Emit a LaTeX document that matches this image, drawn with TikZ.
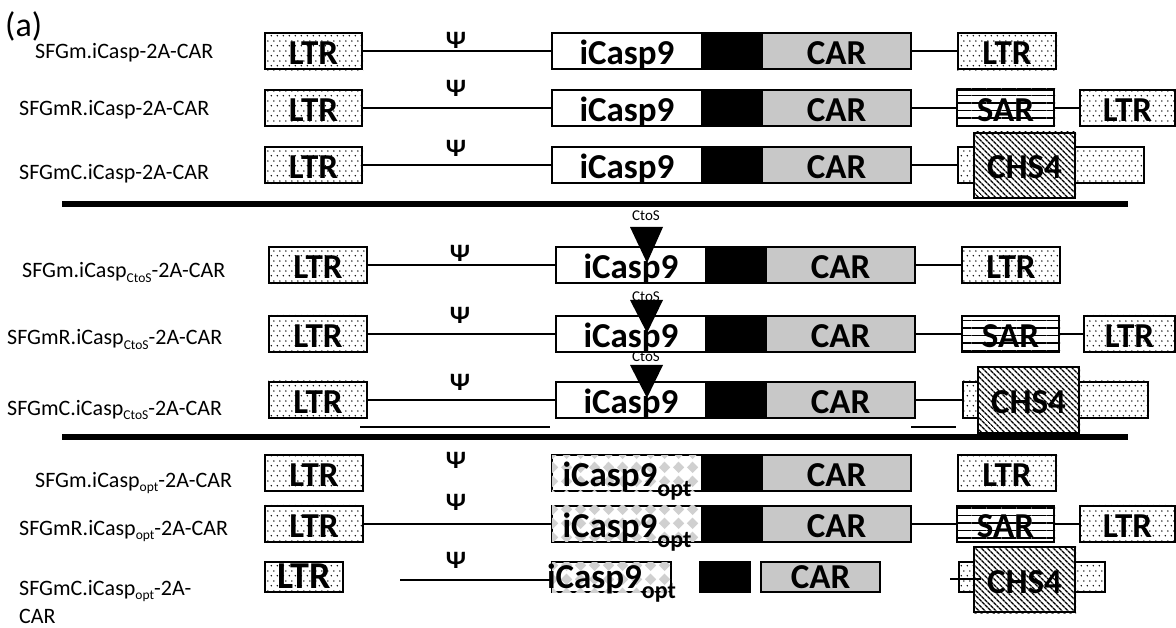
\documentclass[tikz,border=0pt]{standalone}
\usepackage{fontspec}
\setmainfont{Carlito}
\usetikzlibrary{patterns,patterns.meta}

\definecolor{cargray}{RGB}{200,200,200}
\definecolor{optgray}{RGB}{208,208,208}

% staggered dots for the LTR elements
\tikzdeclarepattern{
  name=ltrdots,
  type=uncolored,
  bottom left={(0pt,0pt)},
  top right={(6pt,10pt)},
  tile size={(6pt,10pt)},
  code={
    \pgfpathcircle{\pgfpoint{1.5pt}{2.5pt}}{0.9pt}
    \pgfpathcircle{\pgfpoint{4.5pt}{7.5pt}}{0.9pt}
    \pgfusepath{fill}
  }
}

% grey diamonds for the codon-optimised iCasp9
\tikzdeclarepattern{
  name=optdiamonds,
  type=colored,
  bottom left={(0pt,0pt)},
  top right={(14pt,14pt)},
  tile size={(14pt,14pt)},
  code={
    \fill[optgray] (7pt,1pt) -- (13pt,7pt) -- (7pt,13pt) -- (1pt,7pt) -- cycle;
  }
}

\newcommand\boxfont{\fontsize{35}{40}\selectfont\bfseries}
\newcommand\lblfont{\fontsize{22}{26}\selectfont}
\newcommand\psifont{\fontsize{25}{28}\selectfont\bfseries}
\newcommand\lsub[1]{\raisebox{-4.5pt}{\fontsize{13.5}{14}\selectfont #1}}
\newcommand\optsub{\raisebox{-10pt}{\fontsize{24}{24}\selectfont opt}}

% element from x1 to x2 centred on row y
\newcommand\cassette[6]{\node[#5, minimum width={(#3-#2)*1pt}] (#1) at ({(#2+#3)/2},#4) {#6};}

\tikzset{
  box/.style={draw, line width=2pt, inner sep=0pt, minimum height=36pt,
              text height=27pt, text depth=0pt, font=\boxfont},
  ltr/.style={box, fill=white},
  ic/.style={box, fill=white},
  icopt/.style={box, fill=white, postaction={pattern=optdiamonds}},
  tag/.style={box, fill=black},
  car/.style={box, fill=cargray},
  sar/.style={box, fill=white},
  chs/.style={box, fill=white, minimum height=65pt},
  short/.style={minimum height=30pt, text height=22pt},
  dotskin/.style={pattern=ltrdots},
  sarskin/.style={pattern={Lines[angle=0,distance=7.5pt,line width=1.4pt]}},
  chsskin/.style={pattern={Lines[angle=-45,distance=4pt,line width=1.5pt]}},
  link/.style={line width=2pt},
  thin/.style={line width=1.5pt},
  sep/.style={line width=6pt},
  psi/.style={font=\psifont, inner sep=0pt},
  lbl/.style={anchor=base west, inner sep=0pt, font=\lblfont},
  ctos/.style={font=\fontsize{15}{16}\selectfont, inner sep=0pt},
}

\begin{document}
\begin{tikzpicture}[x=1pt,y=-1pt]
\useasboundingbox[fill=white] (0,0) rectangle (1176,628);

\node[anchor=base west, inner sep=0pt, font=\fontsize{34}{36}\selectfont] (panel) at (5,37) {(a)};

% ---------- SFGm / SFGmR / SFGmC ----------
\node[lbl] (t1) at (35,59) {SFGm.iCasp-2A-CAR};
\cassette{la1}{265}{362}{51.5}{ltr}{LTR}
\cassette{ic1}{552}{702}{51.5}{ic}{iCasp9}
\cassette{bk1}{702}{762}{51.5}{tag}{}
\cassette{cr1}{762}{911}{51.5}{car}{CAR}
\cassette{lb1}{958}{1056}{51.5}{ltr}{LTR}
\node[psi] (p1) at (456,40) {Ψ};
\draw[link] (la1) -- (ic1);
\draw[link] (cr1) -- (lb1);

\node[lbl] (t2) at (19,116) {SFGmR.iCasp-2A-CAR};
\cassette{la2}{265}{362}{108}{ltr}{LTR}
\cassette{ic2}{552}{702}{108}{ic}{iCasp9}
\cassette{bk2}{702}{762}{108}{tag}{}
\cassette{cr2}{762}{911}{108}{car}{CAR}
\cassette{sa2}{957}{1054}{108}{sar}{SAR}
\cassette{lb2}{1080}{1175}{108}{ltr}{LTR}
\node[psi] (p2) at (456,88) {Ψ};
\draw[link] (la2) -- (ic2);
\draw[link] (cr2) -- (sa2);
\draw[link] (sa2) -- (lb2);

\node[lbl] (t3) at (19,180) {SFGmC.iCasp-2A-CAR};
\cassette{la3}{265}{362}{165.5}{ltr}{LTR}
\cassette{ic3}{552}{702}{165.5}{ic}{iCasp9}
\cassette{bk3}{702}{762}{165.5}{tag}{}
\cassette{cr3}{762}{911}{165.5}{car}{CAR}
\cassette{db3}{958}{1144}{165.5}{ltr}{}
\node[psi] (p3) at (456,148) {Ψ};
\draw[link] (la3) -- (ic3);
\draw[link] (cr3) -- (db3);
\fill[dotskin] (db3.south west) rectangle (db3.north east);
\cassette{ch3}{974}{1075}{165.5}{chs}{CHS4}
\fill[chsskin] (ch3.south west) rectangle (ch3.north east);

\coordinate (s1a) at (62,204);
\coordinate (s1b) at (1128,204);
\draw[sep] (s1a) -- (s1b);

% ---------- CtoS variants ----------
\node[lbl] (t4) at (22,278) {SFGm.iCasp\lsub{CtoS}-2A-CAR};
\cassette{la4}{269}{367}{265.5}{ltr}{LTR}
\cassette{ic4}{556}{706}{265.5}{ic}{iCasp9}
\cassette{bk4}{706}{766}{265.5}{tag}{}
\cassette{cr4}{766}{915}{265.5}{car}{CAR}
\cassette{lb4}{962}{1060}{265.5}{ltr}{LTR}
\node[psi] (p4) at (460,253) {Ψ};
\draw[link] (la4) -- (ic4);
\draw[link] (cr4) -- (lb4);

\node[lbl] (t5) at (7,345) {SFGmR.iCasp\lsub{CtoS}-2A-CAR};
\cassette{la5}{269}{367}{334}{ltr}{LTR}
\cassette{ic5}{556}{706}{334}{ic}{iCasp9}
\cassette{bk5}{706}{766}{334}{tag}{}
\cassette{cr5}{766}{915}{334}{car}{CAR}
\cassette{sa5}{962}{1059}{334}{sar}{SAR}
\cassette{lb5}{1084}{1175}{334}{ltr}{LTR}
\node[psi] (p5) at (460,315) {Ψ};
\draw[link] (la5) -- (ic5);
\draw[link] (cr5) -- (sa5);
\draw[link] (sa5) -- (lb5);

\node[lbl] (t6) at (7,415) {SFGmC.iCasp\lsub{CtoS}-2A-CAR};
\cassette{la6}{269}{367}{400}{ltr}{LTR}
\cassette{ic6}{556}{706}{400}{ic}{iCasp9}
\cassette{bk6}{706}{766}{400}{tag}{}
\cassette{cr6}{766}{915}{400}{car}{CAR}
\cassette{db6}{963}{1148}{400}{ltr}{}
\node[psi] (p6) at (460,382) {Ψ};
\draw[link] (la6) -- (ic6);
\draw[link] (cr6) -- (db6);
\fill[dotskin] (db6.south west) rectangle (db6.north east);
\cassette{ch6}{978}{1079}{400}{chs}{CHS4}
\fill[chsskin] (ch6.south west) rectangle (ch6.north east);

\coordinate (u6a) at (360,427);
\coordinate (u6b) at (550,427);
\coordinate (u6c) at (911,427);
\coordinate (u6d) at (956,427);
\draw[thin] (u6a) -- (u6b);
\draw[thin] (u6c) -- (u6d);

% CtoS mutation markers
\foreach \r/\top/\tip/\bot/\lab in {4/227/263/283/216, 5/300/333/352/297, 6/365/398/418/357}{
  \node[ctos] (m\r) at (646,\lab) {CtoS};
  \coordinate (ma\r) at (630,\top);
  \coordinate (mb\r) at (663,\top);
  \coordinate (mt\r) at (647,\tip);
  \coordinate (mz\r) at (647,\bot);
  \fill (ma\r) -- (mb\r) -- (mt\r) -- cycle;
  \draw[thin] (mt\r) -- (mz\r);
}

\coordinate (s2a) at (62,437);
\coordinate (s2b) at (1128,437);
\draw[sep] (s2a) -- (s2b);

% ---------- codon-optimised variants ----------
\node[lbl] (t7) at (35,487) {SFGm.iCasp\lsub{opt}-2A-CAR};
\cassette{la7}{265}{363}{473}{ltr}{LTR}
\cassette{ic7}{552}{702}{473}{icopt}{iCasp9\optsub}
\cassette{bk7}{702}{762}{473}{tag}{}
\cassette{cr7}{762}{911}{473}{car}{CAR}
\cassette{lb7}{958}{1056}{473}{ltr}{LTR}
\node[psi] (p7) at (456,460) {Ψ};

\node[lbl] (t8) at (19,535) {SFGmR.iCasp\lsub{opt}-2A-CAR};
\cassette{la8}{265}{363}{523.5}{ltr}{LTR}
\cassette{ic8}{552}{702}{523.5}{icopt}{iCasp9\optsub}
\cassette{bk8}{702}{762}{523.5}{tag}{}
\cassette{cr8}{762}{911}{523.5}{car}{CAR}
\cassette{sa8}{957}{1054}{523.5}{sar}{SAR}
\cassette{lb8}{1080}{1175}{523.5}{ltr}{LTR}
\node[psi] (p8) at (456,502) {Ψ};
\draw[link] (la8) -- (ic8);
\draw[link] (cr8) -- (sa8);
\draw[link] (sa8) -- (lb8);

\node[lbl] (t9) at (19,595) {SFGmC.iCasp\lsub{opt}-2A-};
\node[lbl] (t9b) at (19,623) {CAR};
\cassette{la9}{265}{343}{577}{ltr,short,font=\fontsize{38}{40}\selectfont\bfseries}{LTR}
\cassette{ic9}{552}{671}{577}{icopt,short}{\makebox[0pt]{iCasp9\optsub}}
\cassette{bk9}{700}{750}{577}{tag,short}{}
\cassette{cr9}{761}{880}{577}{car,short}{CAR}
\cassette{db9}{959}{1105}{577}{ltr,short}{}
\node[psi] (p9) at (456,560) {Ψ};
\coordinate (w9) at (400,580);
\draw[link] (w9) -- (w9 -| ic9.west);
\fill[dotskin] (db9.south west) rectangle (db9.north east);
\cassette{ch9}{974}{1075}{579.5}{chs}{CHS4}
\fill[chsskin] (ch9.south west) rectangle (ch9.north east);
\coordinate (e9) at (950,579);
\draw[link] (e9) -- ([xshift=8pt]e9 -| ch9.west);

% dot texture laid over the LTR and SAR elements
\foreach \n in {la1,lb1,la2,lb2,la3,la4,lb4,la5,lb5,la6,la7,lb7,la8,lb8,la9}
  \fill[dotskin] (\n.south west) rectangle (\n.north east);
\foreach \n in {sa2,sa5,sa8}
  \fill[sarskin] (\n.south west) rectangle (\n.north east);
\end{tikzpicture}
\end{document}
